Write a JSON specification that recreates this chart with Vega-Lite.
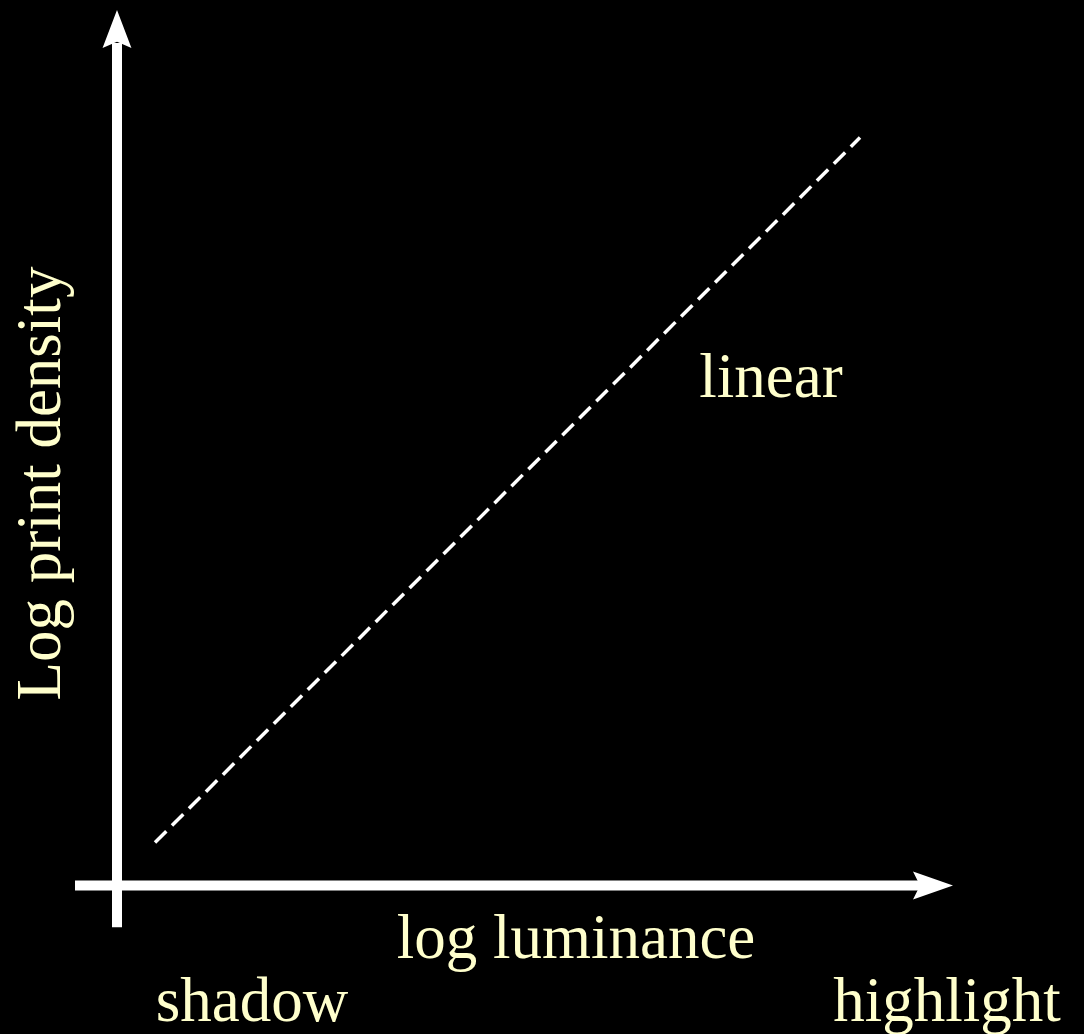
{
  "$schema": "https://vega.github.io/schema/vega-lite/v6.json",
  "width": 1084,
  "height": 1034,
  "autosize": {"type": "fit", "contains": "padding"},
  "padding": 0,
  "background": "#000000",
  "config": {"view": {"stroke": null}},
  "datasets": {
    "axes": [
      {"name": "vertical", "x": 0, "x2": 0, "y": -4.2, "y2": 84.5},
      {"name": "horizontal", "x": -4.2, "x2": 80.5, "y": 0, "y2": 0}
    ],
    "curve": [
      {"lum": 3.8, "dens": 4.3},
      {"lum": 74.3, "dens": 75.0}
    ],
    "headUp": [{"x": 0, "y": 85.9}],
    "headRight": [{"x": 81.6, "y": 0}],
    "labels": [
      {"text": "log luminance", "x": 45.9, "y": -7.3},
      {"text": "shadow", "x": 13.5, "y": -13.6},
      {"text": "highlight", "x": 83.0, "y": -13.6},
      {"text": "linear", "x": 65.4, "y": 49.0}
    ],
    "ylabel": [{"text": "Log print density", "x": -5.7, "y": 40.3}]
  },
  "layer": [
    {
      "data": {"name": "axes"},
      "mark": {"type": "rule", "color": "#ffffff", "strokeWidth": 10},
      "encoding": {
        "x": {"field": "x", "type": "quantitative", "scale": {"domain": [-11.7, 96.7], "zero": false, "nice": false}, "axis": null},
        "x2": {"field": "x2"},
        "y": {"field": "y", "type": "quantitative", "scale": {"domain": [-14.6, 88.8], "zero": false, "nice": false}, "axis": null},
        "y2": {"field": "y2"}
      }
    },
    {
      "data": {"name": "headUp"},
      "mark": {"type": "point", "filled": true, "color": "#ffffff", "opacity": 1, "size": 1444, "shape": "M0,-1L0.76,1L0,0.68L-0.76,1Z", "strokeWidth": 0},
      "encoding": {
        "x": {"field": "x", "type": "quantitative"},
        "y": {"field": "y", "type": "quantitative"}
      }
    },
    {
      "data": {"name": "headRight"},
      "mark": {"type": "point", "filled": true, "color": "#ffffff", "opacity": 1, "size": 1600, "shape": "M1,0L-1,0.7L-0.65,0L-1,-0.7Z", "strokeWidth": 0},
      "encoding": {
        "x": {"field": "x", "type": "quantitative"},
        "y": {"field": "y", "type": "quantitative"}
      }
    },
    {
      "data": {"name": "curve"},
      "mark": {"type": "line", "color": "#ffffff", "strokeWidth": 3.5, "strokeDash": [16, 8]},
      "encoding": {
        "x": {"field": "lum", "type": "quantitative"},
        "y": {"field": "dens", "type": "quantitative"}
      }
    },
    {
      "data": {"name": "labels"},
      "mark": {"type": "text", "color": "#ffffcc", "font": "Liberation Serif", "fontSize": 63, "align": "center", "baseline": "alphabetic"},
      "encoding": {
        "x": {"field": "x", "type": "quantitative"},
        "y": {"field": "y", "type": "quantitative"},
        "text": {"field": "text"}
      }
    },
    {
      "data": {"name": "ylabel"},
      "mark": {"type": "text", "color": "#ffffcc", "font": "Liberation Serif", "fontSize": 63, "align": "center", "baseline": "alphabetic", "angle": 270},
      "encoding": {
        "x": {"field": "x", "type": "quantitative"},
        "y": {"field": "y", "type": "quantitative"},
        "text": {"field": "text"}
      }
    }
  ]
}
